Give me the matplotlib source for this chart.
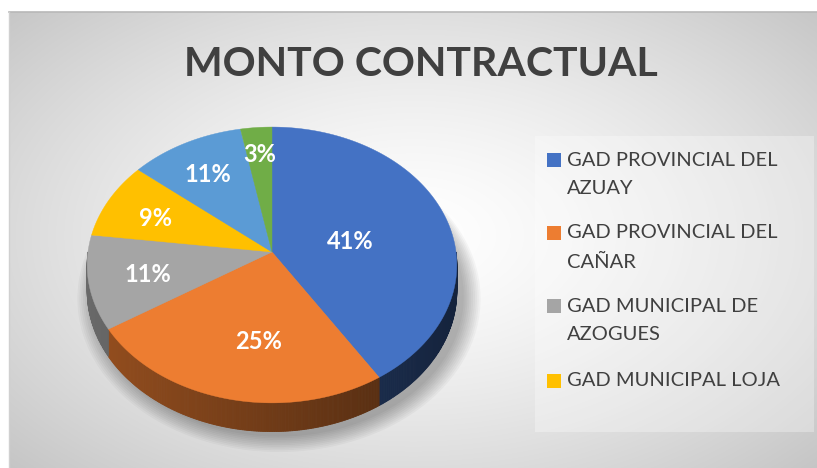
import numpy as np
import matplotlib
matplotlib.use("Agg")
import matplotlib.pyplot as plt
from matplotlib.patches import Rectangle, Polygon

# Datos del grafico
porcentajes = [41, 25, 11, 9, 11, 3]
colores = ["#4472C4", "#ED7D31", "#A5A5A5", "#FFC000", "#5B9BD5", "#70AD47"]
leyenda = ["GAD PROVINCIAL DEL\nAZUAY", "GAD PROVINCIAL DEL\nCAÑAR",
           "GAD MUNICIPAL DE\nAZOGUES", "GAD MUNICIPAL LOJA"]
titulo = "MONTO CONTRACTUAL"

plt.rcParams['font.family'] = ['Lato', 'DejaVu Sans']

W, H = 817, 468
fig = plt.figure(figsize=(W / 100, H / 100), dpi=100)
ax = fig.add_axes([0, 0, 1, 1])
ax.set_xlim(0, W)
ax.set_ylim(H, 0)
ax.axis('off')

# fondo con degradado radial
x0, y0 = 9, 12
xx, yy = np.meshgrid(np.arange(x0, W + 1), np.arange(y0, H + 1))
t = np.sqrt(((xx - 413) / 430.0) ** 2 + ((yy - 235) / 260.0) ** 2)
gris = (255 - 58 * np.clip(t / 1.3, 0, 1) ** 1.4) / 255.0
ax.imshow(np.dstack([gris, gris, gris]), extent=[x0, W + 1, H + 1, y0],
          aspect='auto', zorder=0, interpolation='bilinear')
ax.plot([x0, W], [y0, y0], color="#b8b8b8", lw=1.2, zorder=1)
ax.plot([x0, x0], [y0, H], color="#d0d0d0", lw=1.0, zorder=1)

# geometria del pastel (perspectiva simple)
cx, cy, rx, ry, k, prof = 272, 252, 184, 136.7, 0.094, 26


def proj(u, v, dz=0.0):
    g = 1.0 / (1.0 + k * v)
    return cx + rx * u * g, cy - ry * v * g + dz * g


# sombra
for s in np.linspace(1.0, 1.09, 10):
    a = np.linspace(0, 2 * np.pi, 200)
    px, py = proj(np.cos(a) * s, np.sin(a) * s, prof)
    ax.fill(px + 7, py + 5, color="black", alpha=0.03, lw=0, zorder=2)

total = float(sum(porcentajes))
bordes = [90.0]
for p in porcentajes:
    bordes.append(bordes[-1] - 360.0 * p / total)


def oscurecer(c, f):
    r, g, b = matplotlib.colors.to_rgb(c)
    return (min(r * f, 1), min(g * f, 1), min(b * f, 1))


# paredes laterales
for i, c in enumerate(colores):
    a1, a2 = bordes[i], bordes[i + 1]
    # parte visible: angulos entre -180 y 0
    for off in (0, 360, -360):
        lo, hi = max(a2 + off, -180), min(a1 + off, 0)
        if hi <= lo:
            continue
        angs = np.linspace(hi, lo, max(int((hi - lo) * 2), 2))
        for j in range(len(angs) - 1):
            b1, b2 = np.radians(angs[j]), np.radians(angs[j + 1])
            u1, v1 = np.cos(b1), np.sin(b1)
            u2, v2 = np.cos(b2), np.sin(b2)
            p1 = proj(u1, v1)
            p2 = proj(u2, v2)
            p3 = proj(u2, v2, prof)
            p4 = proj(u1, v1, prof)
            um = (u1 + u2) / 2
            col = oscurecer(c, 0.47 - 0.17 * um)
            ax.add_patch(Polygon([p1, p2, p3, p4], closed=True, facecolor=col,
                                 edgecolor=col, lw=0.6, zorder=3))

# cara superior
for i, c in enumerate(colores):
    a = np.radians(np.linspace(bordes[i], bordes[i + 1], 120))
    px, py = proj(np.cos(a), np.sin(a))
    px = np.concatenate([[cx], px])
    py = np.concatenate([[cy], py])
    ax.fill(px, py, color=c, lw=0.3, edgecolor=c, zorder=4)

# etiquetas de datos
radio_etq = [0.45, 0.6, 0.68, 0.71, 0.72, 0.8]
ajuste_etq = [(0, 6), (12, 5), (0, 2), (0, 4), (0, 3), (1, 4)]
for i, p in enumerate(porcentajes):
    am = np.radians((bordes[i] + bordes[i + 1]) / 2)
    lx, ly = proj(radio_etq[i] * np.cos(am), radio_etq[i] * np.sin(am))
    ax.text(lx + ajuste_etq[i][0], ly + ajuste_etq[i][1], f"{p}%",
            color="white", fontsize=17, fontweight='bold',
            ha='center', va='center', zorder=5)

# titulo
ax.text(421, 64, titulo, color="#404040", fontsize=29.5, fontweight='bold',
        ha='center', va='center', zorder=5)

# leyenda
ax.add_patch(Rectangle((535, 136), 279, 296, facecolor="white", alpha=0.3,
                       lw=0, zorder=4))
ys = [160, 233, 306, 381]
for i, lab in enumerate(leyenda):
    ax.add_patch(Rectangle((547, ys[i] - 7), 14, 14, facecolor=colores[i],
                           lw=0, zorder=5))
    for n, linea in enumerate(lab.split("\n")):
        ax.text(567, ys[i] + 29 * n, linea, color="#404040", fontsize=14.5,
                ha='left', va='center', zorder=5)

fig.savefig("out.png", dpi=100)
